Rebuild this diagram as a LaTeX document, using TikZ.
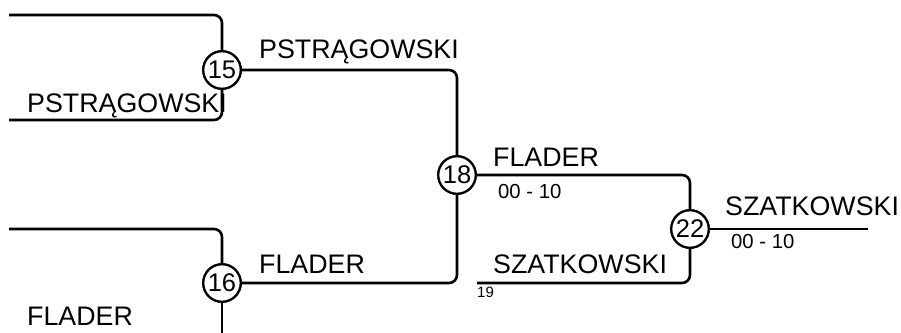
\documentclass[tikz,border=0pt]{standalone}
\usepackage{fontspec}
\setmainfont{Liberation Sans}
\begin{document}
\begin{tikzpicture}[x=1pt,y=-1pt,
  line/.style={line width=2.6pt,rounded corners=8pt},
  seed/.style={circle,draw,line width=2.2pt,fill=white,inner sep=0pt,minimum size=37.5pt,font=\fontsize{25.5}{25.5}\selectfont},
  big/.style={font=\fontsize{26.8}{27}\selectfont,inner sep=0pt,anchor=base west},
  small/.style={font=\fontsize{20.3}{21}\selectfont,inner sep=0pt,anchor=base west},
  tiny/.style={font=\fontsize{15}{15}\selectfont,inner sep=0pt,anchor=base west}]
\useasboundingbox (0,0) rectangle (901,332);
\node[seed] (c15) at (222,70) {15};
\node[seed] (c16) at (222,283) {16};
\node[seed] (c18) at (457,175) {18};
\node[seed] (c22) at (690,229) {22};
\coordinate (t1) at (9,15);
\coordinate (b1) at (9,120);
\coordinate (t2) at (9,229);
\coordinate (b2) at (222,340);
\coordinate (e19) at (477,283);
\coordinate (fin) at (868,229);
\draw[line] (t1) -| (c15.north);
\draw[line] (c15.south) |- (b1);
\draw[line] (t2) -| (c16.north);
\draw[line] (c16.south) -- (b2);
\draw[line] (c15.east) -| (c18.north);
\draw[line] (c16.east) -| (c18.south);
\draw[line] (c18.east) -| (c22.north);
\draw[line] (c22.south) |- (e19);
\draw[line] (c22.east) -- (fin);
\node[seed] at (c15) {15};
\node[seed] at (c16) {16};
\node[seed] at (c18) {18};
\node[seed] at (c22) {22};
\node[big] (l1) at (27,112) {PSTRĄGOWSKI};
\node[big] (l2) at (259,58) {PSTRĄGOWSKI};
\node[big] (l3) at (27,325) {FLADER};
\node[big] (l4) at (259,273) {FLADER};
\node[big] (l5) at (493,166) {FLADER};
\node[small] (s1) at (498,198) {00 - 10};
\node[big] (l6) at (493,273) {SZATKOWSKI};
\node[tiny] (n19) at (477,297) {19};
\node[big] (l7) at (725,215) {SZATKOWSKI};
\node[small] (s2) at (731,248) {00 - 10};
\end{tikzpicture}
\end{document}
